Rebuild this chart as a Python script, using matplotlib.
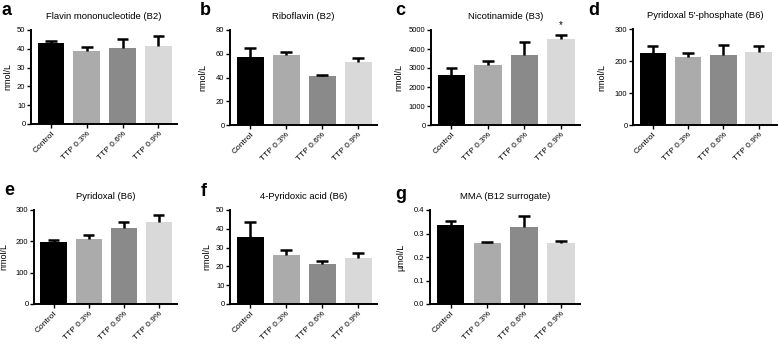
import numpy as np
import matplotlib
matplotlib.use("Agg")
import matplotlib.pyplot as plt
from matplotlib.ticker import MultipleLocator, FormatStrFormatter

plt.rcParams['font.family'] = ['Liberation Sans', 'DejaVu Sans']

groups = ['Control', 'TTP 0.3%', 'TTP 0.6%', 'TTP 0.9%']
bar_colors = ['#000000', '#ababab', '#8a8a8a', '#d9d9d9']

# mean and SEM for each panel
fmn_mean = [42.9, 38.9, 40.3, 41.5]
fmn_err = [1.4, 2.3, 4.7, 5.5]
ribo_mean = [57.5, 58.7, 41.3, 53.3]
ribo_err = [7.1, 3.1, 1.1, 3.4]
nico_mean = [2630, 3160, 3680, 4530]
nico_err = [390, 230, 700, 230]
plp_mean = [226, 214, 219, 229]
plp_err = [21, 11, 31, 19]
pl_mean = [197, 209, 244, 262]
pl_err = [8, 12, 18, 22]
pa_mean = [35.7, 26.1, 21.3, 24.7]
pa_err = [7.9, 2.5, 1.7, 2.3]
mma_mean = [0.338, 0.258, 0.327, 0.258]
mma_err = [0.016, 0.006, 0.047, 0.012]

# letter, title, data, unit, y max, y step, tick format,
# axes box (px), y label x (px), letter baseline (px)
panels = [
    ('a', 'Flavin mononucleotide (B2)', fmn_mean, fmn_err, 'nmol/L', 50, 10, '%d',
     (31, 30, 177, 124), 12, (2, 15)),
    ('b', 'Riboflavin (B2)', ribo_mean, ribo_err, 'nmol/L', 80, 20, '%d',
     (230, 30, 377, 125), 207, (200, 15)),
    ('c', 'Nicotinamide (B3)', nico_mean, nico_err, 'nmol/L', 5000, 1000, '%d',
     (431, 30, 580, 125), 403, (395, 15)),
    ('d', "Pyridoxal 5'-phosphate (B6)", plp_mean, plp_err, 'nmol/L', 300, 100, '%d',
     (633, 29, 777, 125), 606, (588, 15)),
    ('e', 'Pyridoxal (B6)', pl_mean, pl_err, 'nmol/L', 300, 100, '%d',
     (34, 210, 177, 304), 8, (4, 195)),
    ('f', '4-Pyridoxic acid (B6)', pa_mean, pa_err, 'nmol/L', 50, 10, '%d',
     (230, 210, 377, 304), 211, (201, 196)),
    ('g', 'MMA (B12 surrogate)', mma_mean, mma_err, 'µmol/L', 0.4, 0.1, '%.1f',
     (430, 210, 580, 304), 405, (395, 199)),
]

W, H = 778, 345
fig = plt.figure(figsize=(W / 100, H / 100), dpi=100)

for (letter, title, mean, err, ylab, ymax, step, fmt,
     (x0, y0, x1, y1), ylab_x, (lx, ly)) in panels:
    ax = fig.add_axes([x0 / W, 1 - y1 / H, (x1 - x0) / W, (y1 - y0) / H])
    x = np.arange(len(groups))
    ax.bar(x, mean, width=0.75, color=bar_colors, zorder=2)
    top = np.array(mean) + np.array(err)
    ax.vlines(x, mean, top, color='black', lw=1.8, zorder=3)
    ax.hlines(top, x - 0.16, x + 0.16, color='black', lw=1.8, zorder=3)
    ax.set_xlim(-0.56, 3.52)
    ax.set_ylim(0, ymax)
    ax.yaxis.set_major_locator(MultipleLocator(step))
    ax.yaxis.set_major_formatter(FormatStrFormatter(fmt))
    for s in ['top', 'right']:
        ax.spines[s].set_visible(False)
    for s in ['left', 'bottom']:
        ax.spines[s].set_linewidth(1.4)
    ax.tick_params(axis='y', length=3, width=1, labelsize=5.5, pad=1)
    ax.tick_params(axis='x', length=3, width=1, labelsize=6, pad=1.5)
    ax.set_xticks(x)
    ax.set_xticklabels(groups, rotation=45, ha='right', rotation_mode='anchor')
    ax.set_ylabel(ylab, fontsize=6.5)
    ax.yaxis.set_label_coords((ylab_x - x0) / (x1 - x0), 0.5)
    ax.set_title(title, fontsize=6.8, pad=8)
    fig.text(lx / W, 1 - ly / H, letter, fontsize=13, fontweight='bold',
             ha='left', va='baseline')
    if letter == 'c':
        ax.text(3, top[3] + 250, '*', ha='center', va='bottom', fontsize=7, clip_on=False)

fig.savefig('out.png', dpi=100)
